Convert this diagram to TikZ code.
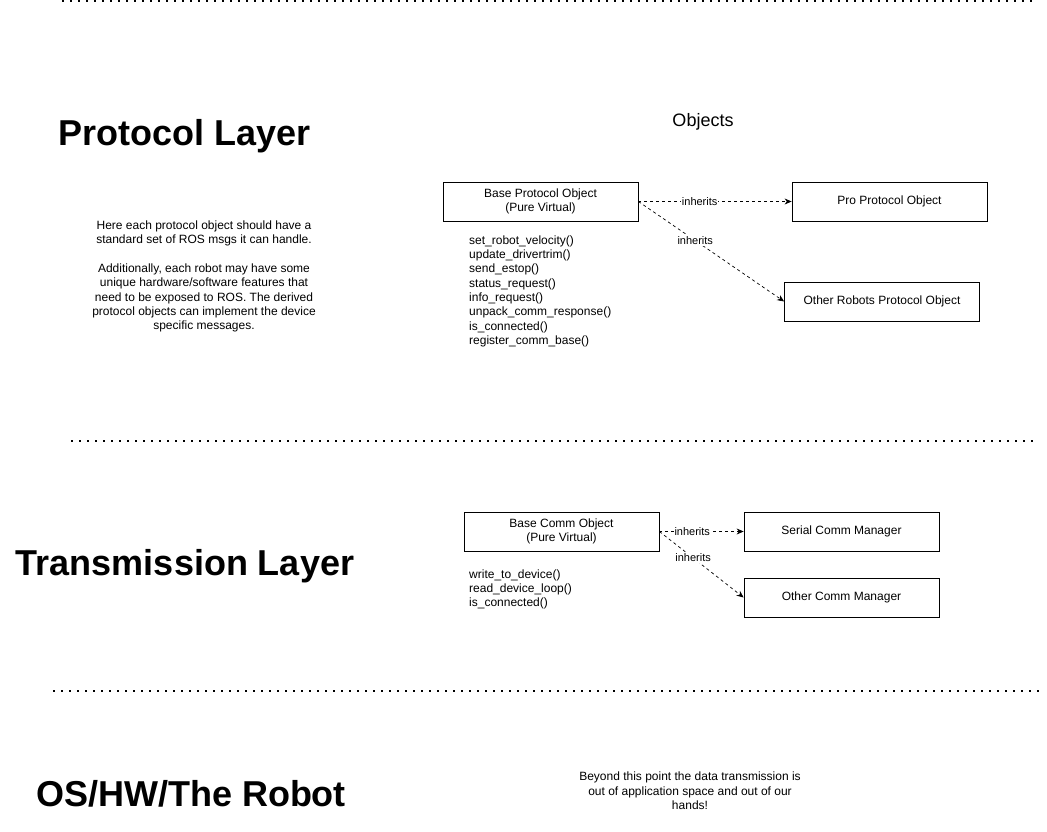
\documentclass[tikz,border=0pt]{standalone}
\usepackage{fontspec}
\setmainfont{Liberation Sans}
\usetikzlibrary{arrows.meta,positioning}

\tikzset{
  objbox/.style={draw, line width=0.8pt, minimum width=195pt, minimum height=39pt,
    align=center, font=\fontsize{12}{14.3}\selectfont},
  layertitle/.style={font=\bfseries\fontsize{36}{40}\selectfont},
  methods/.style={anchor=north west, inner sep=0pt, align=left,
    font=\fontsize{12}{14.3}\selectfont},
  note/.style={align=center, font=\fontsize{12}{14.3}\selectfont},
  inherit/.style={->, dash pattern=on 3pt off 3pt, line width=0.7pt},
  lbl/.style={fill=white, inner sep=1pt, font=\fontsize{11}{13}\selectfont},
  divider/.style={line width=1.6pt, dash pattern=on 1.6pt off 6.4pt}
}

\begin{document}
\begin{tikzpicture}[x=1pt,y=-1pt,>={Stealth[length=7pt,width=6pt]},node distance=2cm,on grid]
\useasboundingbox (0,0) rectangle (1047,832);

% layer dividers
\draw[divider] (62,1) -- (1032,1);
\draw[divider] (71,441) -- (1034,441);
\draw[divider] (53,691) -- (1041,691);

% layer titles
\node[layertitle] (protocol) at (185,136) {Protocol Layer};
\node[layertitle] (transmission) at (185,566) {Transmission Layer};
\node[layertitle] (robot) at (191,794) {OS/HW/The Robot};

\node[font=\fontsize{18}{20}\selectfont] (objects) at (703,122) {Objects};

% protocol objects
\node[objbox] (base_proto) at (540.5,201.5) {Base Protocol Object\\(Pure Virtual)};
\node[objbox] (pro_proto) [right=349pt of base_proto] {Pro Protocol Object};
\node[objbox] (other_proto) [below right=100pt and 341.5pt of base_proto] {Other Robots Protocol Object};
\node[methods] (proto_methods) at (469,235.5) {set\_robot\_velocity()\\update\_drivertrim()\\send\_estop()\\status\_request()\\info\_request()\\unpack\_comm\_response()\\is\_connected()\\register\_comm\_base()};

\path[inherit]
  (base_proto.east) edge node[lbl,pos=0.4] {inherits} (pro_proto.west)
  (base_proto.east) edge node[lbl,pos=0.39] {inherits} (other_proto.west);

\node[note] (proto_note) at (204,276.5) {Here each protocol object should have a\\standard set of ROS msgs it can handle.\\[14.3pt]Additionally, each robot may have some\\unique hardware/software features that\\need to be exposed to ROS. The derived\\protocol objects can implement the device\\specific messages.};

% comm objects
\node[objbox] (base_comm) at (561.5,531.5) {Base Comm Object\\(Pure Virtual)};
\node[objbox] (serial_comm) [right=280pt of base_comm] {Serial Comm Manager};
\node[objbox] (other_comm) [below right=66pt and 280pt of base_comm] {Other Comm Manager};
\node[methods] (comm_methods) at (469,569.5) {write\_to\_device()\\read\_device\_loop()\\is\_connected()};

\path[inherit]
  (base_comm.east) edge node[lbl,pos=0.39] {inherits} (serial_comm.west)
  (base_comm.east) edge node[lbl,pos=0.4] {inherits} (other_comm.west);

\node[note] (robot_note) at (690,791) {Beyond this point the data transmission is\\out of application space and out of our\\hands!};
\end{tikzpicture}
\end{document}
